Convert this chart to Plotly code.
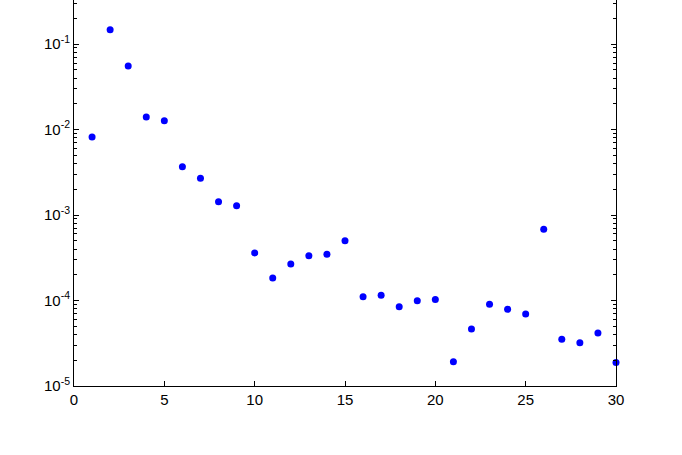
import plotly.graph_objects as go

x_values = list(range(1, 31))
y_values = [
    8.17e-3, 0.147, 0.0553, 0.0140, 0.01268,
    3.67e-3, 2.69e-3, 1.43e-3, 1.28e-3, 3.60e-4,
    1.83e-4, 2.67e-4, 3.34e-4, 3.47e-4, 5.00e-4,
    1.11e-4, 1.15e-4, 8.45e-5, 9.95e-5, 1.03e-4,
    1.92e-5, 4.65e-5, 9.03e-5, 7.89e-5, 6.95e-5,
    6.81e-4, 3.52e-5, 3.21e-5, 4.17e-5, 1.88e-5,
]
x_ticks = [0, 5, 10, 15, 20, 25, 30]
y_decades = [-5, -4, -3, -2, -1]
y_major_ticks = [10.0 ** d for d in y_decades]
y_tick_labels = ["10<sup>%d</sup>" % d for d in y_decades]
y_minor_ticks = [m * 10.0 ** d for d in y_decades for m in range(2, 10)]

fig = go.Figure(
    go.Scatter(
        x=x_values, y=y_values, mode="markers",
        marker=dict(color="#0000FF", size=7, line=dict(width=0)),
        cliponaxis=False,
    )
)

font = dict(family="Liberation Sans, Arial, sans-serif", size=15, color="black")

fig.update_layout(
    width=682, height=455,
    margin=dict(l=74, r=66, t=0, b=69),
    paper_bgcolor="white", plot_bgcolor="white",
    showlegend=False,
    font=font,
    xaxis=dict(
        range=[0, 30], tickmode="array", tickvals=x_ticks,
        ticks="inside", ticklen=5, tickcolor="black", tickwidth=1,
        showline=True, linecolor="black", linewidth=1, mirror=False,
        showgrid=False, zeroline=False, tickfont=font, automargin=False,
    ),
    yaxis=dict(
        type="log", range=[-5, -0.485],
        tickmode="array", tickvals=y_major_ticks, ticktext=y_tick_labels,
        ticks="inside", ticklen=5, tickcolor="black", tickwidth=1,
        showline=True, linecolor="black", linewidth=1, mirror="ticks",
        showgrid=False, zeroline=False, tickfont=font, automargin=False,
        minor=dict(ticks="inside", ticklen=3, tickcolor="black", tickwidth=1,
                   tickmode="array", tickvals=y_minor_ticks, showgrid=False),
    ),
)

fig.write_html(
    "out.html",
    config={"displayModeBar": False},
    post_script="document.body.style.margin='0';document.body.style.padding='0';",
)
